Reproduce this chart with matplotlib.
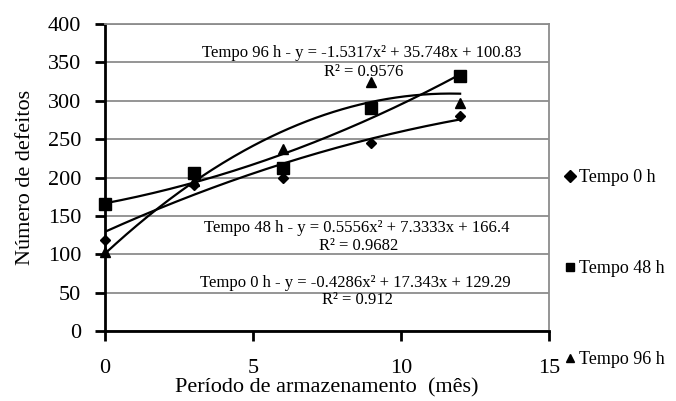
import matplotlib
matplotlib.use("Agg")
import matplotlib.pyplot as plt
import numpy as np

plt.rcParams['font.family'] = ['Liberation Serif', 'DejaVu Serif']

months = [0, 3, 6, 9, 12]
t0 = [118, 190, 200, 245, 280]
t48 = [165, 206, 213, 290, 332]
t96 = [103, 195, 237, 325, 297]

series_names = ["Tempo 0 h", "Tempo 48 h", "Tempo 96 h"]
coefs = {
    "Tempo 0 h": (-0.4286, 17.343, 129.29),
    "Tempo 48 h": (0.5556, 7.3333, 166.4),
    "Tempo 96 h": (-1.5317, 35.748, 100.83),
}
eq_labels = {
    "Tempo 96 h": ("Tempo 96 h - y = -1.5317x² + 35.748x + 100.83", "R² = 0.9576"),
    "Tempo 48 h": ("Tempo 48 h - y = 0.5556x² + 7.3333x + 166.4", "R² = 0.9682"),
    "Tempo 0 h": ("Tempo 0 h - y = -0.4286x² + 17.343x + 129.29", "R² = 0.912"),
}

fig = plt.figure(figsize=(6.76, 4.01), dpi=100)
ax = fig.add_axes([0.1553, 0.1746, 0.812 - 0.1553, 0.940 - 0.1746])

ax.set_xlim(0, 15)
ax.set_ylim(0, 400)
ax.set_xticks([0, 5, 10, 15])
ax.set_yticks(np.arange(0, 401, 50))
ax.yaxis.grid(True, color='#8c8c8c', linewidth=1.3)
ax.set_axisbelow(True)

for s in ['top', 'right']:
    ax.spines[s].set_color('#8c8c8c')
    ax.spines[s].set_linewidth(1.3)
for s in ['left', 'bottom']:
    ax.spines[s].set_color('black')
    ax.spines[s].set_linewidth(2)

ax.tick_params(axis='both', direction='out', length=7, width=2, labelsize=16)
ax.tick_params(axis='x', pad=13)
ax.tick_params(axis='y', pad=10)

markers = {"Tempo 0 h": ('D', 5), "Tempo 48 h": ('s', 8), "Tempo 96 h": ('^', 7)}
data = {"Tempo 0 h": t0, "Tempo 48 h": t48, "Tempo 96 h": t96}

xs = np.linspace(0, 12, 200)
for name in series_names:
    a, b, c = coefs[name]
    ax.plot(xs, a * xs**2 + b * xs + c, color='black', linewidth=1.6, zorder=3)

for name in series_names:
    m, ms = markers[name]
    ax.plot(months, data[name], linestyle='none', marker=m, markersize=ms,
            color='black', label=name, zorder=4, clip_on=False)

# equation annotations
pos = {"Tempo 96 h": (362, 53, 72), "Tempo 48 h": (357, 228, 246), "Tempo 0 h": (355, 283, 300)}
for name, (px, py1, py2) in pos.items():
    l1, l2 = eq_labels[name]
    fig.text(px / 676, 1 - py1 / 401, l1, ha='center', va='center', fontsize=12)
    fig.text((px + 2) / 676, 1 - py2 / 401, l2, ha='center', va='center', fontsize=12)

ax.set_xlabel("Período de armazenamento  (mês)", fontsize=16, labelpad=0)
ax.set_ylabel("Número de defeitos", fontsize=16, labelpad=9)

leg = fig.legend(loc='upper left', bbox_to_anchor=(565 / 676, 1 - 169 / 401),
                 frameon=False, fontsize=13, handlelength=0.6, handletextpad=0.2,
                 labelspacing=4.1, borderaxespad=0, borderpad=0)
for h in leg.legend_handles:
    h.set_markersize(6)

fig.savefig("out.png", dpi=100)
